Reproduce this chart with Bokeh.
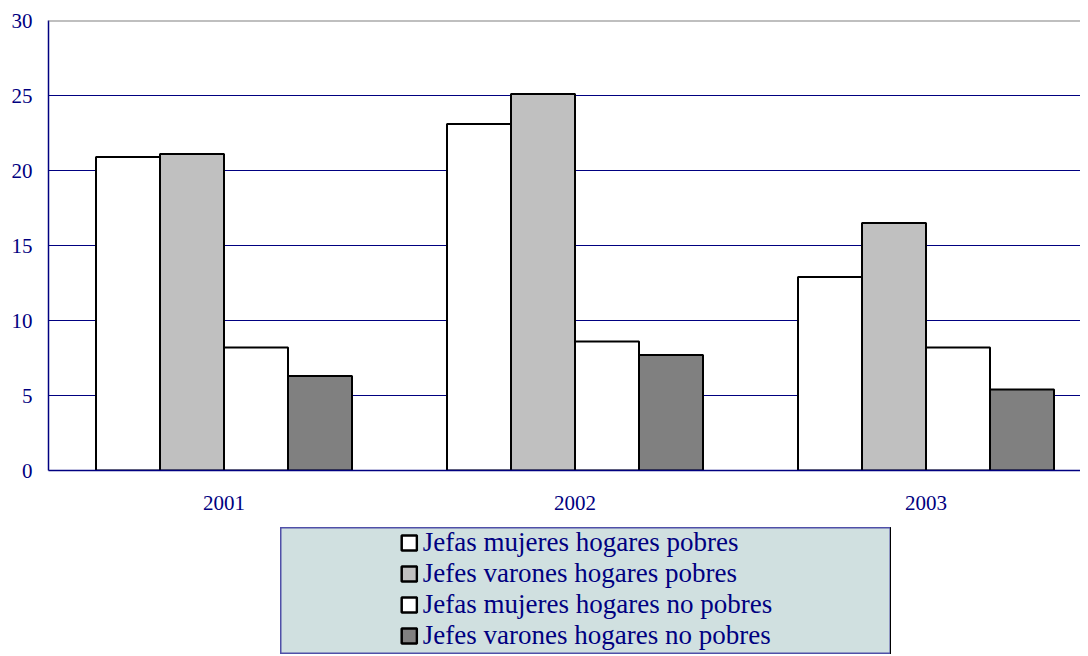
from bokeh.plotting import figure
from bokeh.models import (Range1d, FixedTicker, Span, Legend, LegendItem,
                          ColumnDataSource, Spacer)
from bokeh.layouts import column, row
from bokeh.embed import file_html
from bokeh.resources import INLINE

years = ["2001", "2002", "2003"]
series_names = ["Jefas mujeres hogares pobres", "Jefes varones hogares pobres",
                "Jefas mujeres hogares no pobres", "Jefes varones hogares no pobres"]
jefas_pobres = [20.9, 23.1, 12.9]
jefes_pobres = [21.1, 25.1, 16.5]
jefas_no_pobres = [8.2, 8.6, 8.2]
jefes_no_pobres = [6.3, 7.7, 5.4]
y_ticks = [0, 5, 10, 15, 20, 25, 30]

series = [jefas_pobres, jefes_pobres, jefas_no_pobres, jefes_no_pobres]
colors = ["#FFFFFF", "#C0C0C0", "#FFFFFF", "#808080"]

NAVY = "#000080"
FONT = "Liberation Serif"

W, H = 1080, 518
ML, MT, MB, MR = 48, 20, 48, 0
group_px = 351.0
frame_w = W - ML - MR
bar_w = 64.0 / group_px

p = figure(width=W, height=H, output_backend="svg", toolbar_location=None,
           x_range=Range1d(0, frame_w / group_px), y_range=Range1d(0, 30),
           min_border_left=ML, min_border_right=MR, min_border_top=MT,
           min_border_bottom=MB)
p.background_fill_color = "white"
p.border_fill_color = "white"
p.outline_line_color = None

centers = [i + 0.5 for i in range(len(years))]
offsets = [-1.5, -0.5, 0.5, 1.5]
for vals, col, off in zip(series, colors, offsets):
    src = ColumnDataSource(dict(x=[c + off * bar_w for c in centers], top=vals))
    p.vbar(x="x", top="top", width=bar_w, bottom=0, source=src,
           fill_color=col, line_color="black", line_width=2)

p.xgrid.grid_line_color = None
p.ygrid.ticker = FixedTicker(ticks=y_ticks[1:-1])
p.ygrid.grid_line_color = NAVY
p.ygrid.grid_line_width = 1
p.add_layout(Span(location=30, dimension="width", line_color="#808080", line_width=2))

p.yaxis.ticker = FixedTicker(ticks=y_ticks)
p.xaxis.ticker = FixedTicker(ticks=centers)
p.xaxis.major_label_overrides = {c: y for c, y in zip(centers, years)}
for ax in (p.xaxis, p.yaxis):
    ax.major_tick_line_color = None
    ax.minor_tick_line_color = None
    ax.axis_line_color = NAVY
    ax.axis_line_width = 1.5
    ax.major_label_text_color = NAVY
    ax.major_label_text_font_size = "21px"
    ax.major_label_text_font = FONT
p.yaxis.major_label_standoff = 10
p.xaxis.major_label_standoff = 19

# legend box
lf = figure(width=611, height=127, output_backend="svg", toolbar_location=None,
            x_range=Range1d(0, 1), y_range=Range1d(0, 1),
            min_border=0, min_border_left=0, min_border_right=0,
            min_border_top=0, min_border_bottom=0)
lf.axis.visible = False
lf.grid.visible = False
lf.background_fill_color = "#D0E0E0"
lf.border_fill_color = "#D0E0E0"
lf.outline_line_color = "#5050A8"
lf.outline_line_width = 2
items = []
for name, col in zip(series_names, colors):
    r = lf.vbar(x=[5], top=[1], width=0.1, fill_color=col, line_color="black", line_width=2.5)
    items.append(LegendItem(label=name, renderers=[r]))
leg = Legend(items=items, location="top_center", glyph_width=19, glyph_height=19,
             label_height=30, spacing=-1, padding=9, margin=0, label_standoff=5,
             label_text_font=FONT, label_text_font_size="27px",
             label_text_color=NAVY, background_fill_alpha=0,
             border_line_color=None)
lf.add_layout(leg, "center")

layout = column(p, row(Spacer(width=280), lf), spacing=9)
open("out.html", "w").write(file_html(layout, INLINE))
